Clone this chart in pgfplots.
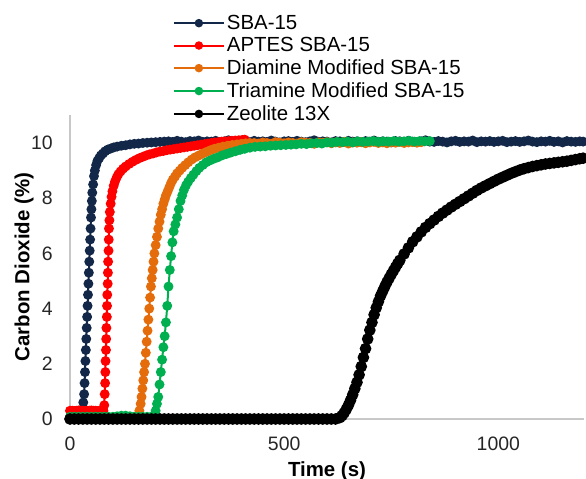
\documentclass[border=0pt]{standalone}
\usepackage{pgfplots}
\pgfplotsset{compat=1.18}
\usepackage{fontspec}
\setmainfont{Liberation Sans}
\definecolor{sbanavy}{RGB}{19,40,72}
\definecolor{aptesred}{RGB}{255,0,0}
\definecolor{diaorange}{RGB}{228,108,10}
\definecolor{trigreen}{RGB}{0,176,80}
\definecolor{axgray}{RGB}{200,200,200}
\begin{document}
\begin{tikzpicture}
\useasboundingbox (-70bp,-60bp) rectangle (516bp,419bp);
\begin{axis}[
  scale only axis,
  width=514bp, height=303.6bp,
  xmin=0, xmax=1200, ymin=0, ymax=11,
  axis x line*=bottom, axis y line*=left,
  axis line style={draw=axgray, line width=1.2bp, -},
  major tick length=0pt,
  xtick={0,500,1000}, ytick={0,2,4,6,8,10},
  /pgf/number format/assume math mode=true,
  /pgf/number format/1000 sep={},
  tick label style={font=\fontsize{19.5}{22}\selectfont, text=black!85},
  xticklabel style={anchor=center, inner sep=0pt, yshift=-25bp},
  yticklabel style={anchor=east, inner sep=0pt, xshift=-17bp},
  xlabel={\textbf{Time (s)}},
  ylabel={\textbf{Carbon Dioxide (\%)}},
  every axis x label/.style={at={(axis description cs:0.5,-0.171)}, anchor=center, font=\fontsize{20.5}{24}\selectfont},
  every axis y label/.style={at={(axis description cs:-0.0895,0.5)}, anchor=center, rotate=90, font=\fontsize{20.5}{24}\selectfont},
  clip=false,
  legend cell align=left,
  legend style={at={(axis description cs:0.1998,1.337)}, anchor=north west, draw=none, fill=none,
    font=\fontsize{20.5}{24}\selectfont, inner sep=0pt, row sep=2.6bp,
    nodes={inner sep=2bp}},
  legend image code/.code={\draw[mark repeat=2,mark phase=2,#1,mark size=3.2bp] plot coordinates {(0bp,0bp) (25bp,0bp) (50bp,0bp)};},
  every axis plot/.append style={line width=2bp, mark=*, mark size=3.9bp, mark options={solid}},
]
% SBA-15
\addplot[color=sbanavy] coordinates {
(0,0.05)(5,0.05)(10,0.05)(15,0.05)(20,0.05)(24,0.05)
(27,0.05)(29,0.3)(31,0.6)(33,0.9)(34,1.3)(35,1.7)(36,2.1)(37,2.5)(38,2.9)(39,3.3)(40,3.7)(41,4.1)(42,4.5)(43,4.9)(44,5.3)(45,5.7)(46,6.1)(47,6.5)(48,6.9)(49,7.3)(50,7.6)(51,7.9)(52,8.2)(54,8.5)(56,8.8)(58,9.0)(61,9.2)(64,9.35)(68,9.45)(72,9.55)(77,9.62)(82,9.7)(88,9.76)(95,9.8)(102,9.84)(110,9.87)(120,9.9)(130,9.92)(140,9.95)(150,9.97)(160,9.98)(170,10.0)(180,10.01)(190,10.02)(200,10.03)(210,10.04)(220,10.05)
(230,10.06)(240,10.04)(250,10.08)(260,10.05)(270,10.03)(280,10.07)(290,10.06)(300,10.09)(310,10.04)(320,10.06)(330,10.05)(340,10.08)(350,10.03)(360,10.06)(370,10.1)(380,10.05)(390,10.04)(400,10.07)(410,10.06)(420,10.03)(430,10.08)(440,10.05)(450,10.06)(460,10.04)(470,10.09)(480,10.05)(490,10.02)(500,10.06)(510,10.07)(520,10.04)(530,10.08)(540,10.05)(550,10.03)(560,10.06)(570,10.1)(580,10.04)(590,10.06)(600,10.05)(610,10.02)(620,10.07)(630,10.06)(640,10.04)(650,10.08)(660,10.05)(670,10.06)(680,10.03)(690,10.07)(700,10.05)(710,10.09)(720,10.04)(730,10.06)(740,10.05)(750,10.02)(760,10.07)(770,10.06)(780,10.04)(790,10.08)(800,10.05)(810,10.03)(820,10.06)(830,10.1)(840,10.05)(850,10.04)(860,10.07)(870,10.05)(880,10.02)(890,10.06)(900,10.08)(910,10.04)(920,10.06)(930,10.05)(940,10.09)(950,10.03)(960,10.06)(970,10.05)(980,10.07)(990,10.04)(1000,10.06)(1010,10.08)(1020,10.03)(1030,10.05)(1040,10.07)(1050,10.04)(1060,10.06)(1070,10.09)(1080,10.05)(1090,10.03)(1100,10.06)(1110,10.05)(1120,10.08)(1130,10.04)(1140,10.06)(1150,10.02)(1160,10.07)(1170,10.05)(1180,10.04)(1190,10.06)(1198,10.05)
};
\addlegendentry{SBA-15}
% APTES SBA-15
\addplot[color=aptesred] coordinates {
(0,0.3)(5,0.3)(10,0.29)(15,0.3)(20,0.31)(25,0.3)(30,0.3)(35,0.29)(40,0.3)(45,0.3)(50,0.31)(55,0.3)(60,0.3)(65,0.29)(70,0.3)(75,0.3)
(78,0.3)(80,0.5)(81,0.9)(82,1.3)(82.5,1.7)(83,2.1)(84,2.5)(84.5,2.9)(85,3.3)(86,3.7)(86.5,4.1)(87,4.5)(88,4.9)(88.5,5.3)(89,5.7)(90,6.1)(90.5,6.5)(91,6.9)(92,7.2)(93,7.5)(95,7.8)(97,8.05)(99,8.25)(102,8.45)(105,8.6)(109,8.75)(113,8.87)(118,8.97)(124,9.07)
(130,9.15)(138,9.24)(146,9.32)(154,9.39)(162,9.45)(170,9.5)(178,9.55)(186,9.59)(194,9.62)(202,9.66)(210,9.69)(218,9.71)(226,9.74)(234,9.76)(242,9.78)(250,9.8)(258,9.82)(266,9.84)(274,9.86)(282,9.88)(290,9.9)(298,9.92)(306,9.94)(314,9.96)(322,9.98)(330,10.0)(338,10.02)(346,10.03)(354,10.05)(362,10.06)(370,10.07)(378,10.08)(386,10.09)(394,10.1)(402,10.11)(408,10.12)
};
\addlegendentry{APTES SBA-15}
% Diamine
\addplot[color=diaorange] coordinates {
(0,0.05)(10,0.05)(20,0.05)(30,0.05)(40,0.05)(50,0.05)(60,0.05)(70,0.05)(80,0.05)(90,0.05)(100,0.05)(110,0.05)(120,0.05)(130,0.05)(140,0.05)(150,0.05)
(158,0.12)(162,0.3)(165,0.55)(167,0.8)(169,1.1)(171,1.4)(173,1.7)(175,2.0)(177,2.4)(179,2.8)(181,3.2)(183,3.6)(185,4.0)(187,4.4)(189,4.8)(191,5.1)(193,5.4)(195,5.7)(197,6.0)(200,6.3)(203,6.6)(206,6.9)(209,7.15)(212,7.4)(215,7.6)(218,7.8)(221,7.95)(224,8.1)(228,8.25)(232,8.4)(236,8.55)(240,8.67)(245,8.78)(250,8.9)(256,9.0)(262,9.1)(269,9.2)(276,9.3)(284,9.4)(292,9.48)(301,9.55)(310,9.62)(319,9.68)(328,9.74)(337,9.79)(347,9.83)(357,9.87)(368,9.9)(379,9.93)(390,9.95)(400,9.97)(410,9.99)(420,10.0)
(430,10.0)(440,9.98)(450,10.02)(460,10.0)(470,9.97)(480,10.03)(490,10.01)(500,9.99)(510,10.02)(520,10.0)(530,9.98)(540,10.03)(550,10.01)(560,10.0)(570,9.97)(580,10.02)(590,10.01)(600,10.03)(610,9.99)(620,10.02)(630,10.0)(640,10.04)(650,9.98)(660,10.02)(670,10.01)(680,10.03)(690,9.99)(700,10.02)(710,10.04)(720,10.0)(730,10.02)(740,9.99)(750,10.03)(760,10.01)(770,10.04)(780,10.0)(790,10.02)(800,10.03)(810,10.01)(820,10.03)
};
\addlegendentry{Diamine Modified SBA-15}
% Triamine
\addplot[color=trigreen] coordinates {
(0,0.08)(10,0.08)(20,0.08)(30,0.08)(40,0.08)(50,0.08)(60,0.08)(70,0.08)(80,0.08)(90,0.08)(100,0.08)(110,0.1)(120,0.12)(130,0.12)(140,0.1)(150,0.08)(160,0.08)(170,0.08)(180,0.08)(190,0.08)(195,0.1)
(200,0.3)(203,0.55)(206,0.8)(209,1.25)(212,1.7)(215,2.15)(218,2.6)(221,3.0)(224,3.5)(227,4.1)(230,4.8)(233,5.4)(236,5.9)(239,6.4)(242,6.8)(246,7.05)(250,7.3)(254,7.6)(258,7.9)(262,8.1)(266,8.3)(271,8.47)(276,8.6)(282,8.73)(288,8.85)(295,8.98)(302,9.1)(310,9.2)(318,9.3)(327,9.37)(336,9.43)(345,9.48)(355,9.55)(365,9.6)(375,9.65)(386,9.7)(397,9.75)(408,9.79)(420,9.83)(432,9.86)(444,9.87)(456,9.88)(468,9.9)(480,9.91)(492,9.92)
(504,9.93)(516,9.94)(528,9.95)(540,9.97)(552,9.96)(564,9.99)(576,10.0)(588,9.98)(600,10.02)(612,10.01)(624,10.04)(636,10.03)(648,10.05)(660,10.02)(672,10.06)(684,10.04)(696,10.05)(708,10.07)(720,10.04)(732,10.06)(744,10.05)(756,10.07)(768,10.05)(780,10.06)(792,10.08)(804,10.05)(816,10.07)(828,10.06)(840,10.07)
};
\addlegendentry{Triamine Modified SBA-15}
% Zeolite 13X
\addplot[color=black, mark size=4.8bp] coordinates {
(0,0)(10,0)(20,0)(30,0)(40,0)(50,0)(60,0)(70,0)(80,0)(90,0)(100,0)(110,0)(120,0)(130,0)(140,0)(150,0)(160,0)(170,0)(180,0)(190,0)(200,0)(210,0)(220,0)(230,0)(240,0)(250,0)(260,0)(270,0)(280,0)(290,0)(300,0)(310,0)(320,0)(330,0)(340,0)(350,0)(360,0)(370,0)(380,0)(390,0)(400,0)(410,0)(420,0)(430,0)(440,0)(450,0)(460,0)(470,0)(480,0)(490,0)(500,0)(510,0)(520,0)(530,0)(540,0)(550,0)(560,0)(570,0)(580,0)(590,0)(600,0)(610,0)(620,0)
(630,0.05)(635,0.12)(640,0.22)(645,0.35)(650,0.5)(655,0.68)(660,0.88)(665,1.1)(670,1.33)(675,1.6)(680,1.9)(685,2.23)(690,2.55)(695,2.9)(700,3.22)(705,3.5)(710,3.78)(715,4.03)(720,4.25)(725,4.46)(730,4.63)(735,4.8)(740,4.96)(745,5.1)(750,5.24)(755,5.37)(760,5.5)(765,5.63)(770,5.75)(780,5.98)(790,6.2)(800,6.42)(810,6.6)(820,6.78)(830,6.94)(840,7.08)(850,7.21)(860,7.34)(870,7.46)(880,7.57)(890,7.68)(900,7.78)(910,7.88)(920,7.98)(930,8.08)(940,8.18)(950,8.28)(960,8.37)(970,8.45)(980,8.53)(990,8.61)(1000,8.69)(1010,8.76)(1020,8.83)(1030,8.9)(1040,8.96)(1050,9.02)(1060,9.07)(1070,9.11)(1080,9.15)(1090,9.18)(1100,9.21)(1110,9.24)(1120,9.26)(1130,9.28)(1140,9.3)(1150,9.32)(1160,9.34)(1170,9.37)(1180,9.4)(1190,9.43)(1198,9.45)
};
\addlegendentry{Zeolite 13X}
\end{axis}
\end{tikzpicture}
\end{document}
